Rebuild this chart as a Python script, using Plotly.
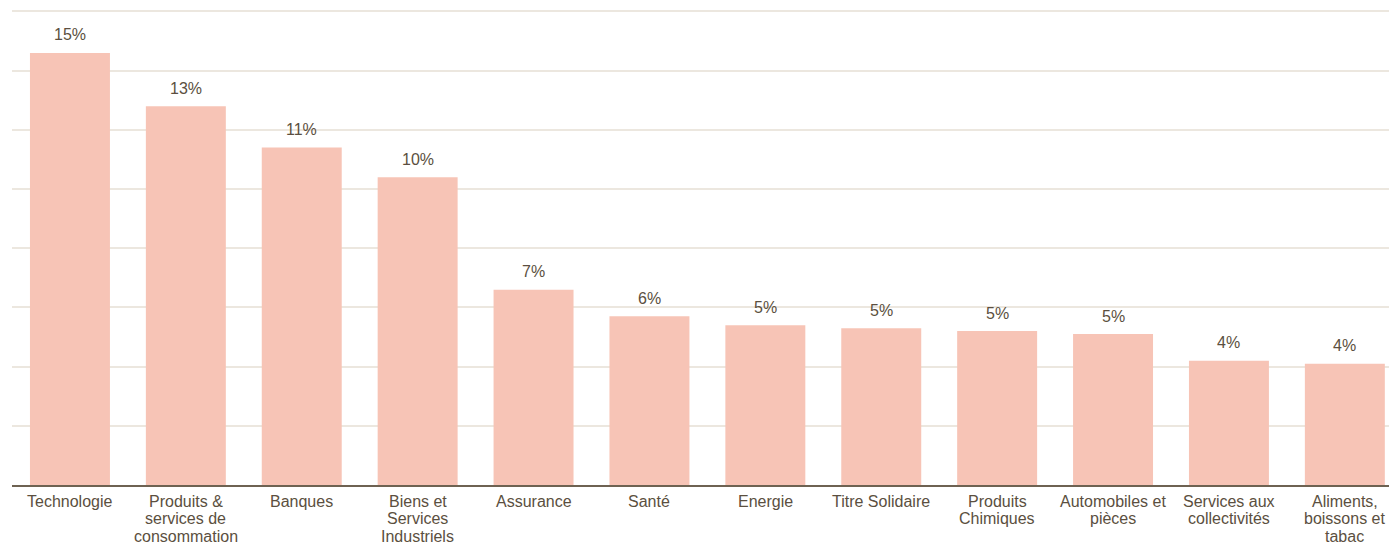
import plotly.graph_objects as go

categories = [
    "Technologie",
    "Produits &<br>services de<br>consommation",
    "Banques",
    "Biens et<br>Services<br>Industriels",
    "Assurance",
    "Santé",
    "Energie",
    "Titre Solidaire",
    "Produits<br>Chimiques",
    "Automobiles et<br>pièces",
    "Services aux<br>collectivités",
    "Aliments,<br>boissons et<br>tabac",
]
values = [14.6, 12.8, 11.4, 10.4, 6.6, 5.7, 5.4, 5.3, 5.2, 5.1, 4.2, 4.1]

text_color = "#5b4f40"
FONT = "Liberation Sans"
xs = list(range(len(categories)))

fig = go.Figure()
fig.add_trace(go.Bar(
    x=xs,
    y=values,
    width=0.69,
    marker=dict(color="#f7c4b6", line=dict(width=0)),
    hoverinfo="skip",
))

annotations = []
for i, v in zip(xs, values):
    annotations.append(dict(
        x=i, y=v, xref="x", yref="y", text=f"{v:.0f}%",
        showarrow=False, yanchor="middle", yshift=18,
        font=dict(family=FONT, size=16, color=text_color),
    ))
for i, cat in zip(xs, categories):
    for k, line in enumerate(cat.split("<br>")):
        annotations.append(dict(
            x=i, y=0, xref="x", yref="y", text=line,
            showarrow=False, yanchor="middle", yshift=-(16 + k * 17.7),
            font=dict(family=FONT, size=16, color=text_color),
        ))

fig.update_layout(
    width=1389, height=538,
    margin=dict(l=4, r=0, t=2, b=60.9),
    paper_bgcolor="white", plot_bgcolor="white",
    showlegend=False,
    font=dict(family=FONT, size=16, color=text_color),
    annotations=annotations,
)
fig.update_xaxes(
    range=[-0.5, 11.45],
    showline=True, linecolor="#6e6252", linewidth=1.5,
    showticklabels=False, ticks="",
    showgrid=False, zeroline=False,
)
fig.update_yaxes(
    range=[0, 16.05], tick0=0, dtick=2,
    showgrid=True, gridcolor="#ece7df", gridwidth=1.5,
    showticklabels=False, zeroline=False,
)
fig.write_html("out.html")
